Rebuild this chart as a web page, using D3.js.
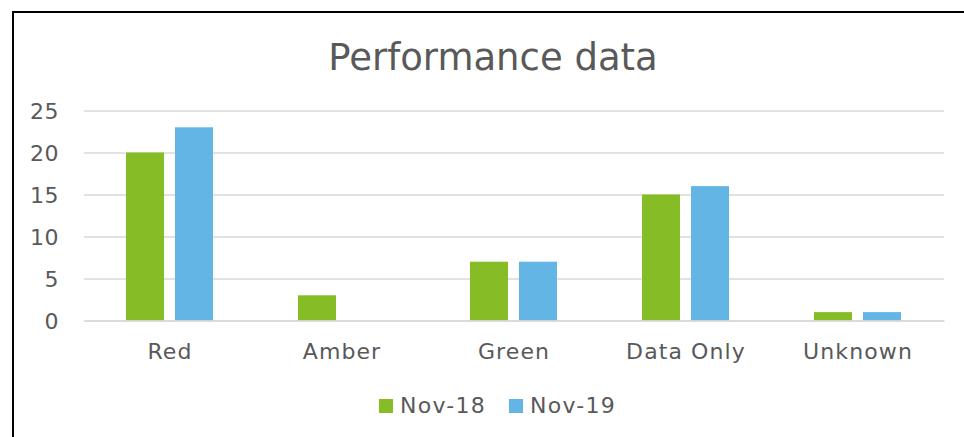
<!DOCTYPE html>
<html><head><meta charset="utf-8">
<script src="https://cdn.jsdelivr.net/npm/d3@7"></script>
<style>body{margin:0;background:#fff}svg{display:block}text{font-family:"DejaVu Sans",Verdana,sans-serif;fill:#595959}</style>
</head><body>
<svg id="c" width="964" height="437"></svg>
<script>
const categories = ["Red","Amber","Green","Data Only","Unknown"];
const seriesNames = ["Nov-18","Nov-19"];
const nov18 = [20,3,7,15,1];
const nov19 = [23,0,7,16,1];
const yTicks = [0,5,10,15,20,25];
const colors = ["#86bc25","#62b5e5"];

const svg = d3.select("#c");
svg.append("rect").attr("x",13).attr("y",12).attr("width",960).attr("height",440)
  .attr("fill","none").attr("stroke","#000").attr("stroke-width",2);

const x0 = d3.scaleBand().domain(categories).range([84,944]).paddingInner(0).paddingOuter(0);
const x1 = d3.scaleBand().domain(seriesNames).range([42,129]).paddingInner(11/49);
const y = d3.scaleLinear().domain([0,25]).range([320.5,110.5]);

svg.append("text").attr("x",493).attr("y",70).attr("text-anchor","middle")
  .style("font-size","37px").text("Performance data");

const yAxis = svg.append("g").attr("transform","translate(84,0)")
  .call(d3.axisLeft(y).tickValues(yTicks).tickSize(-860).tickFormat(d3.format("d")));
yAxis.select(".domain").remove();
yAxis.selectAll("line").attr("stroke","#d9d9d9").attr("stroke-width",1.5);
yAxis.selectAll("text").attr("x",-25).attr("dy","0.36em").style("font-size","22px")
  .style("letter-spacing","0.5px").style("fill","#595959");

const data = [nov18, nov19];
const g = svg.append("g");
categories.forEach((c,i)=>{
  seriesNames.forEach((s,j)=>{
    const v = data[j][i];
    g.append("rect").attr("x",x0(c)+x1(s)).attr("width",x1.bandwidth())
      .attr("y",y(v)).attr("height",y(0)-y(v)).attr("fill",colors[j]);
  });
});

const xAxis = svg.append("g").attr("transform","translate(0,320.5)")
  .call(d3.axisBottom(x0).tickSize(0));
xAxis.select(".domain").attr("stroke","#d9d9d9").attr("stroke-width",1.5);
xAxis.selectAll("text").attr("y",38.5).attr("dy",0).style("font-size","22px")
  .style("letter-spacing","1.1px").style("fill","#595959");

const legend = svg.append("g");
const lx = [379,509];
seriesNames.forEach((s,j)=>{
  legend.append("rect").attr("x",lx[j]).attr("y",399).attr("width",14).attr("height",14).attr("fill",colors[j]);
  legend.append("text").attr("x",lx[j]+21).attr("y",413).style("font-size","22px")
    .style("letter-spacing","1.3px").text(s);
});
</script>
</body></html>
